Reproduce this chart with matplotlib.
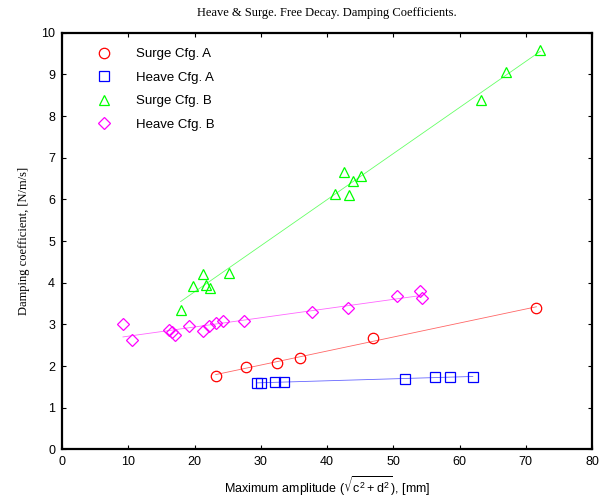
import numpy as np
import matplotlib
matplotlib.use("Agg")
import matplotlib.pyplot as plt

# amplitude [mm], damping coefficient [N/m/s]
surge_a_x = [23.2, 27.8, 32.4, 35.9, 46.9, 71.6]
surge_a_y = [1.77, 1.98, 2.07, 2.19, 2.68, 3.39]

heave_a_x = [29.4, 30.1, 32.1, 33.5, 51.7, 56.3, 58.5, 62.0]
heave_a_y = [1.59, 1.59, 1.62, 1.62, 1.68, 1.74, 1.74, 1.74]

surge_b_x = [17.9, 19.7, 21.3, 21.8, 22.4, 25.2, 41.2, 42.5, 43.3, 43.9, 45.2, 63.2, 67.0, 72.2]
surge_b_y = [3.34, 3.93, 4.22, 3.94, 3.87, 4.24, 6.12, 6.66, 6.10, 6.43, 6.56, 8.38, 9.06, 9.59]

heave_b_x = [9.2, 10.6, 16.2, 16.6, 17.0, 19.2, 21.3, 22.2, 23.3, 24.3, 27.4, 37.7, 43.2, 50.6, 54.1, 54.3]
heave_b_y = [3.00, 2.62, 2.87, 2.81, 2.75, 2.97, 2.83, 2.97, 3.03, 3.07, 3.07, 3.30, 3.39, 3.68, 3.80, 3.64]

series = [
    (surge_a_x, surge_a_y, "#ff0000", "o", "Surge Cfg. A"),
    (heave_a_x, heave_a_y, "#0000ff", "s", "Heave Cfg. A"),
    (surge_b_x, surge_b_y, "#00ff00", "^", "Surge Cfg. B"),
    (heave_b_x, heave_b_y, "#ff00ff", "D", "Heave Cfg. B"),
]

plt.rcParams["mathtext.default"] = "regular"

fig = plt.figure(figsize=(6.11, 5.04), dpi=100)
ax = fig.add_axes([0.1015, 0.1085, 0.8675, 0.8265])

for x, y, c, m, lab in series:
    ms = 6 if m == "D" else 7.5
    ax.plot(x, y, linestyle="none", marker=m, markersize=ms, markerfacecolor="none",
            markeredgecolor=c, markeredgewidth=0.9, label=lab)
    # linear fit between the smallest and largest amplitude
    k, b = np.polyfit(x, y, 1)
    xs = np.array([min(x), max(x)])
    ax.plot(xs, k * xs + b, color=c, linewidth=0.6, alpha=0.6)

ax.set_xlim(0, 80)
ax.set_ylim(0, 10)
ax.set_xticks(np.arange(0, 81, 10))
ax.set_yticks(np.arange(0, 11, 1))
ax.tick_params(direction="in", top=True, right=True, length=3, width=0.8,
               labelsize=9, pad=5)
for lbl in ax.get_xticklabels() + ax.get_yticklabels():
    lbl.set_family("Liberation Sans")
for s in ax.spines.values():
    s.set_linewidth(1.6)

ax.set_title("Heave & Surge. Free Decay. Damping Coefficients.",
             family="Liberation Serif", fontsize=9, pad=12)
ax.set_ylabel("Damping coefficient, [N/m/s]", family="Liberation Serif", fontsize=9, labelpad=8)
ax.set_xlabel(r"Maximum amplitude ($\sqrt{c^2 + d^2}$), [mm]",
              family="Liberation Sans", fontsize=9, labelpad=4)

leg = ax.legend(loc="upper left", bbox_to_anchor=(0.05, 0.985), frameon=False,
                prop={"family": "Liberation Sans", "size": 9.5},
                handlelength=1.0, handletextpad=1.9, labelspacing=0.85,
                borderaxespad=0.3)

fig.savefig("out.png", dpi=100)
